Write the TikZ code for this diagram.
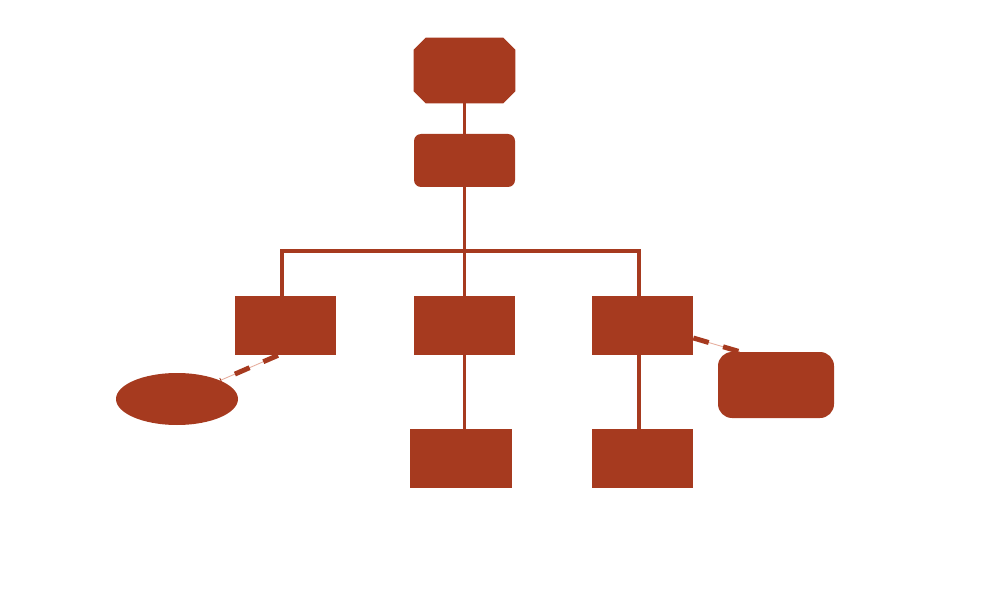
\documentclass[tikz,border=0pt]{standalone}
\usetikzlibrary{shapes.geometric}
\definecolor{rust}{HTML}{A63A1F}
\definecolor{rustlight}{HTML}{E6AE9E}
\begin{document}
\begin{tikzpicture}[box/.style={fill=rust,draw=none,inner sep=0pt,minimum width=2.02cm,minimum height=1.18cm},
	link/.style={draw=rust,line width=2pt},
	weak/.style={draw=rustlight,line width=0.5pt},
	weakdash/.style={draw=rust,line width=2.8pt,dash pattern=on 0.32cm off 0.3cm}]
	\useasboundingbox (0,0) rectangle (20,12);
	
	% top octagon: named frame, then the cut corners
	\node[inner sep=0pt,minimum width=2.02cm,minimum height=1.3cm] (head) at (9.29,10.59) {};
	\fill[rust] ([xshift=0.24cm]head.north west) -- ([xshift=-0.24cm]head.north east) -- ([yshift=-0.24cm]head.north east)
		-- ([yshift=0.24cm]head.south east) -- ([xshift=-0.24cm]head.south east) -- ([xshift=0.24cm]head.south west)
		-- ([yshift=0.24cm]head.south west) -- ([yshift=-0.24cm]head.north west) -- cycle;
	\node[box,rounded corners=0.14cm,minimum height=1.06cm] (sub) at (9.29,8.79) {};
	\node[box] (rowl) at (5.71,5.49) {};
	\node[box] (rowm) at (9.29,5.49) {};
	\node[box] (rowr) at (12.85,5.49) {};
	\node[box,minimum width=2.04cm] (botm) at (9.22,2.83) {};
	\node[box] (botr) at (12.85,2.83) {};
	\node[ellipse,fill=rust,inner sep=0pt,minimum width=2.44cm,minimum height=1.04cm] (ell) at (3.54,4.02) {};
	\node[box,rounded corners=0.28cm,minimum width=2.32cm,minimum height=1.32cm] (side) at (15.52,4.30) {};
	\coordinate (bus) at (9.28,6.98);
	
	\draw[link] (head.south) -- (sub.north);
	\draw[link] (sub.south) -- (rowm.north);
	\draw[link] ([xshift=-2pt]rowl.north) |- (bus) -| ([xshift=-2pt]rowr.north);
	\draw[link] (rowm.south) -- (rowm.south |- botm.north);
	\draw[link] ([xshift=-2pt]rowr.south) -- ([xshift=-2pt]botr.north);
	
	\draw[weak] ([xshift=-0.15cm]rowl.south) -- (ell.north east);
	\draw[weakdash] ([xshift=-0.15cm]rowl.south) -- (ell.north east);
	\draw[weak] ([yshift=-0.25cm]rowr.east) -- ([xshift=0.44cm]side.north west);
	\draw[weakdash] ([yshift=-0.25cm]rowr.east) -- ([xshift=0.44cm]side.north west);
\end{tikzpicture}
\end{document}
